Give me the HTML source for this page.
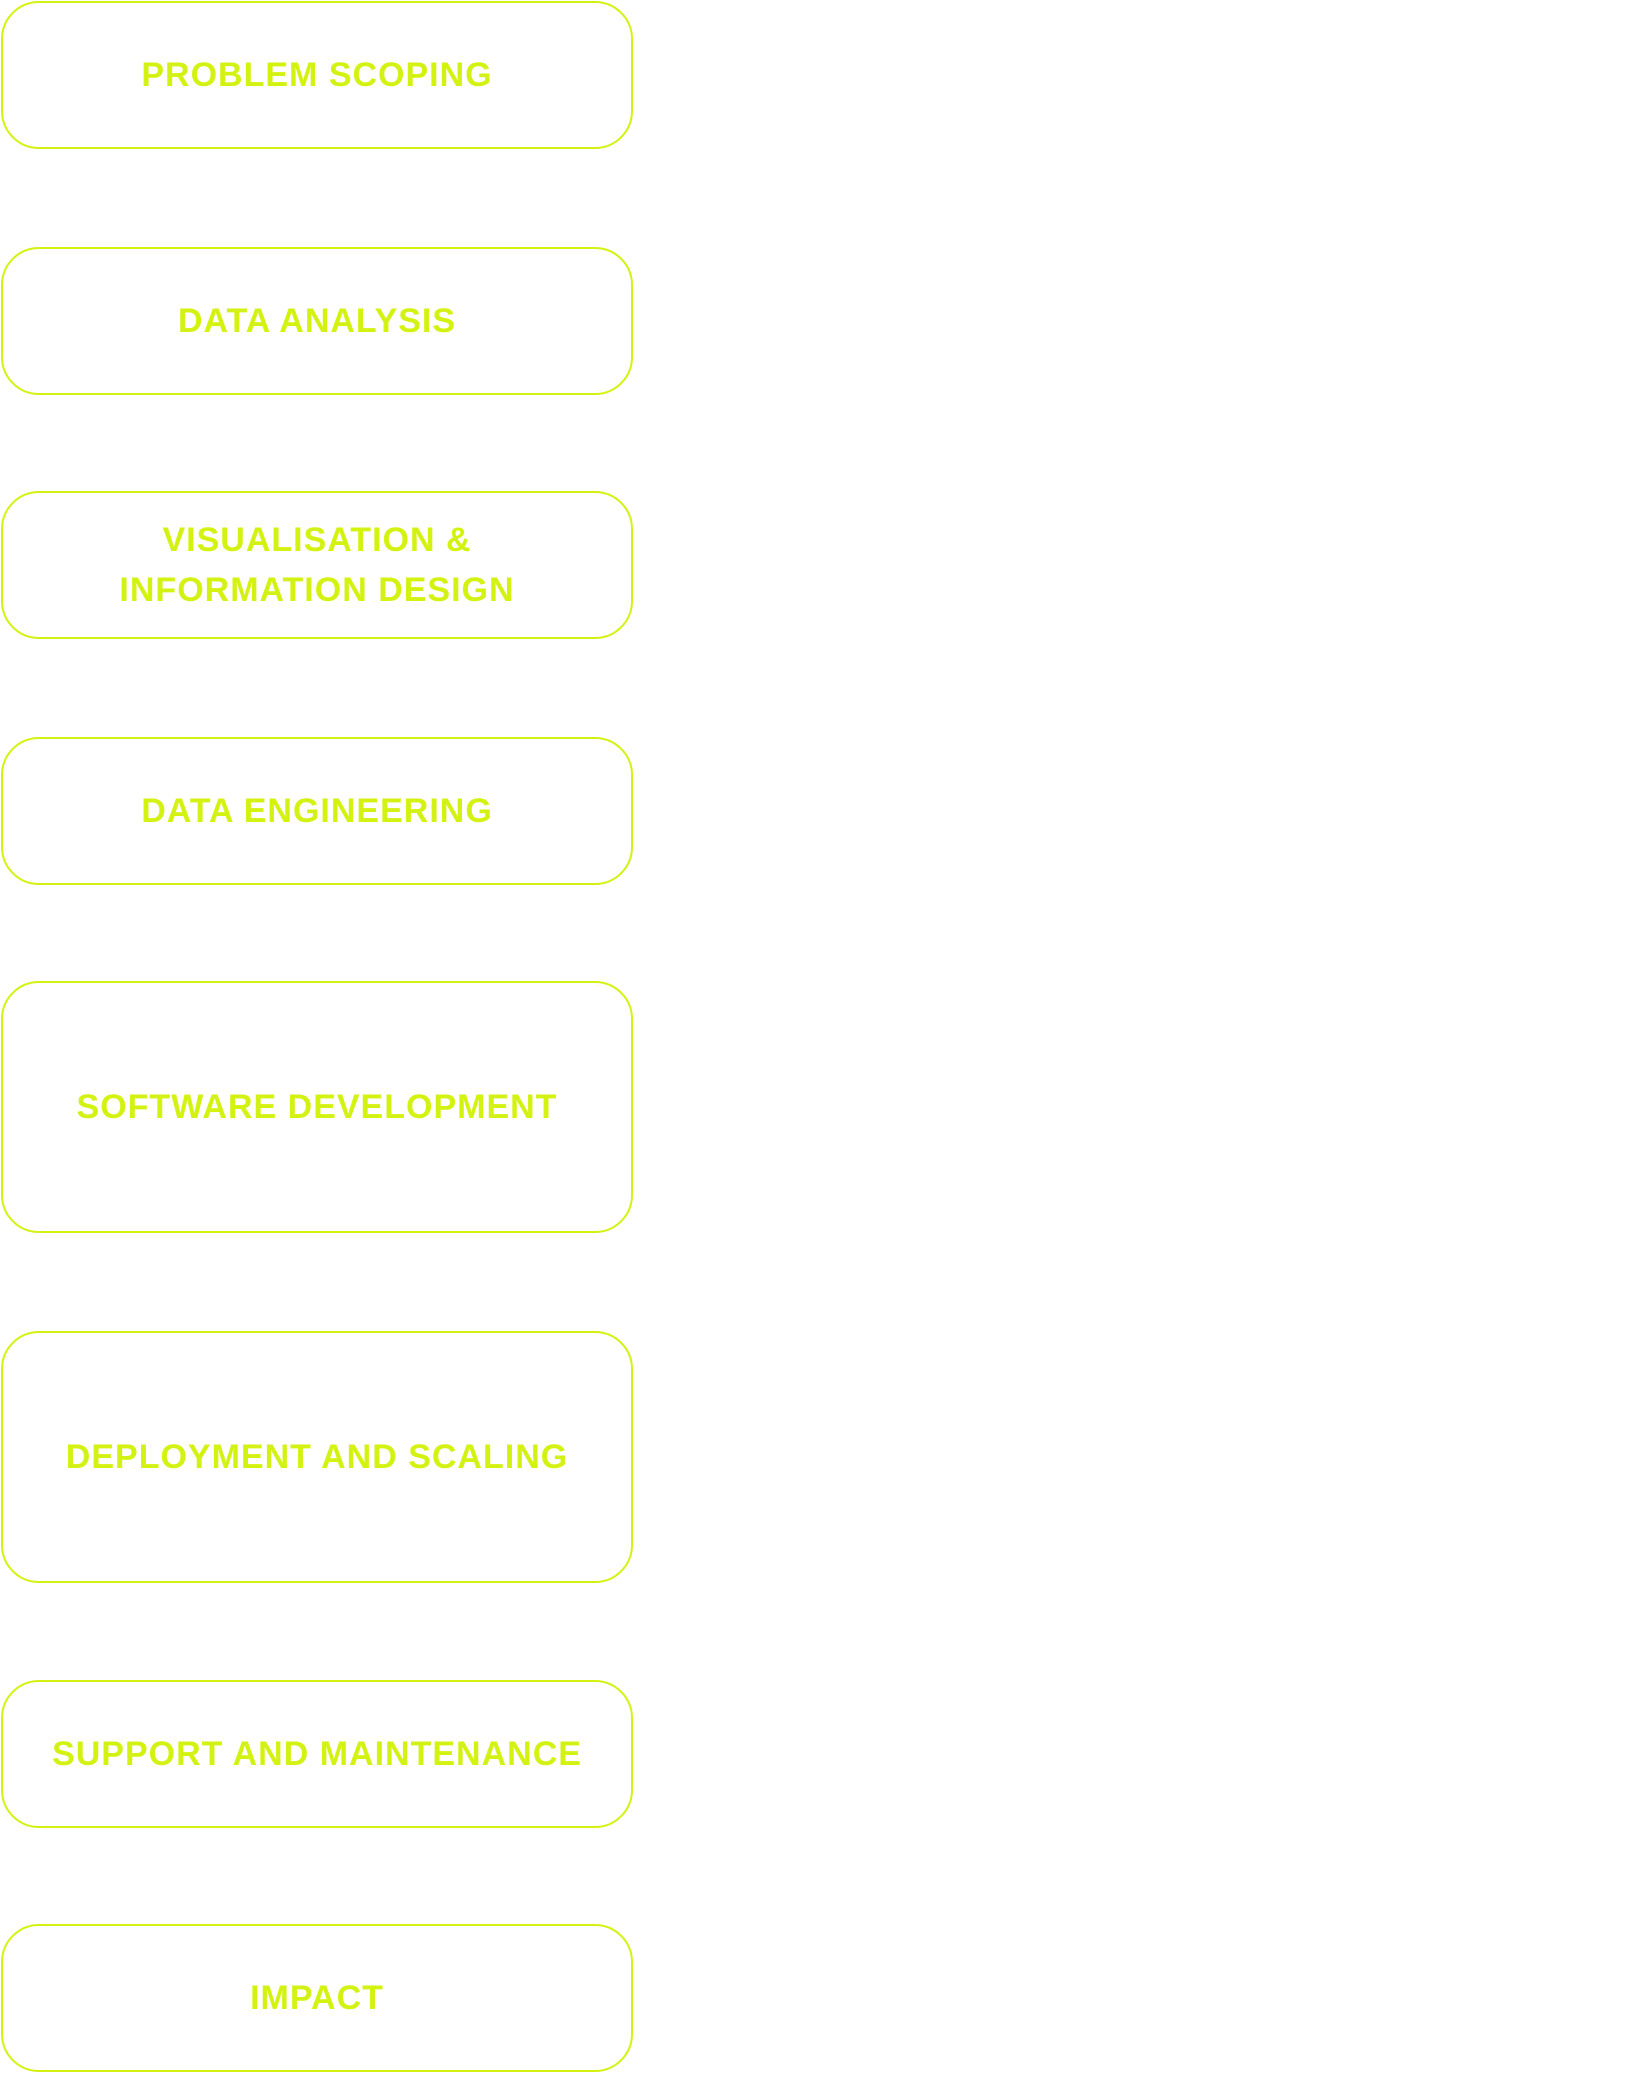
<!DOCTYPE html>
<html><head><meta charset="utf-8"><style>
html,body{margin:0;padding:0;background:#fff;}
body{width:1630px;height:2074px;position:relative;overflow:hidden;}
.b{position:absolute;left:1px;width:632px;border:2px solid #d4f211;border-radius:38px;box-sizing:border-box;display:flex;align-items:center;justify-content:center;text-align:center;color:#d4f211;font-family:"Liberation Sans",sans-serif;font-weight:bold;font-size:34px;letter-spacing:1px;line-height:50px;}
</style></head><body>
<div class="b" style="top:1px;height:148px">PROBLEM SCOPING</div>
<div class="b" style="top:247px;height:148px">DATA ANALYSIS</div>
<div class="b" style="top:491px;height:148px">VISUALISATION &amp;<br>INFORMATION DESIGN</div>
<div class="b" style="top:737px;height:148px">DATA ENGINEERING</div>
<div class="b" style="top:981px;height:252px">SOFTWARE DEVELOPMENT</div>
<div class="b" style="top:1331px;height:252px">DEPLOYMENT AND SCALING</div>
<div class="b" style="top:1680px;height:148px">SUPPORT AND MAINTENANCE</div>
<div class="b" style="top:1924px;height:148px">IMPACT</div>
</body></html>
